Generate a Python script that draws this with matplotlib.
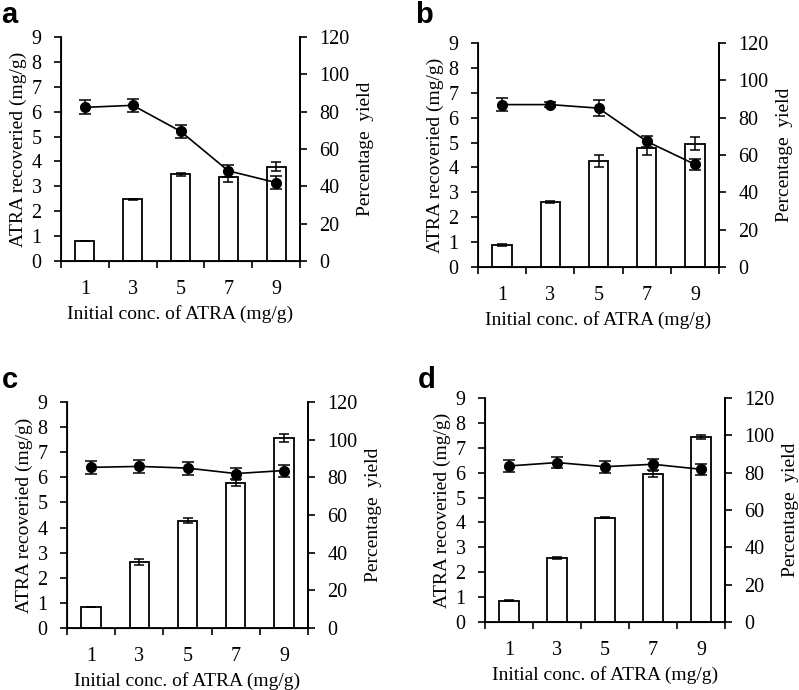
import numpy as np
import matplotlib.pyplot as plt

conc = ["1", "3", "5", "7", "9"]

# ATRA recovered (mg/g), bars on the left axis
rec_a = [0.80, 2.49, 3.48, 3.38, 3.79]
rec_a_err = [0.0, 0.02, 0.07, 0.2, 0.19]
rec_b = [0.89, 2.61, 4.26, 4.78, 4.96]
rec_b_err = [0.03, 0.04, 0.23, 0.3, 0.25]
rec_c = [0.83, 2.61, 4.27, 5.79, 7.55]
rec_c_err = [0.01, 0.12, 0.1, 0.12, 0.16]
rec_d = [0.86, 2.57, 4.19, 5.95, 7.45]
rec_d_err = [0.01, 0.03, 0.02, 0.13, 0.08]

# percentage yield, line on the right axis
yld_a = [82.3, 83.4, 69.5, 48.3, 42.0]
yld_a_err = [3.8, 3.4, 3.6, 3.1, 3.3]
yld_b = [87.0, 87.0, 85.1, 67.3, 55.0]
yld_b_err = [3.3, 1.5, 4.2, 3.1, 2.9]
yld_c = [85.3, 85.8, 84.9, 82.0, 83.6]
yld_c_err = [3.4, 3.4, 3.4, 3.0, 3.2]
yld_d = [83.6, 85.4, 83.2, 84.5, 81.8]
yld_d_err = [3.0, 3.0, 3.2, 3.0, 3.0]

panels = [
    ("a", rec_a, rec_a_err, yld_a, yld_a_err),
    ("b", rec_b, rec_b_err, yld_b, yld_b_err),
    ("c", rec_c, rec_c_err, yld_c, yld_c_err),
    ("d", rec_d, rec_d_err, yld_d, yld_d_err),
]

W, H = 799, 690
# axes boxes in pixels: left, right, top, bottom
boxes = [(61, 300, 37, 261), (478, 719, 43, 267),
         (67, 308, 402, 628), (485, 725, 398, 622)]
# panel letter positions (x, baseline) in pixels
letters = [(1, 23), (415, 23), (2, 388), (418, 388)]

serif = "Liberation Serif"
fs = 14
tfs = 14.5

fig = plt.figure(figsize=(W / 100, H / 100), dpi=100)

for (name, rec, rec_err, yld, yld_err), box, lp in zip(panels, boxes, letters):
    l, r, t, b = box
    ax = fig.add_axes([l / W, 1 - b / H, (r - l) / W, (b - t) / H])
    x = np.arange(len(conc))

    ax.bar(x, rec, width=0.4, color="white", edgecolor="black", linewidth=1.3,
           yerr=rec_err, capsize=3.5, error_kw=dict(elinewidth=1.1, capthick=1.1, ecolor="black"))
    ax.set_xlim(-0.5, 4.5)
    ax.set_ylim(0, 9)
    ax.set_yticks(range(0, 10))

    ax.set_xticks(np.arange(-0.5, 5, 1))
    ax.set_xticklabels([])
    ax.set_xticks(x, minor=True)
    ax.set_xticklabels(conc, minor=True)
    ax.tick_params(axis="x", which="major", direction="out", length=5, width=1.2)
    ax.tick_params(axis="x", which="minor", length=0, pad=14)
    ax.tick_params(axis="y", direction="out", length=5, width=1.2, pad=9)

    ax.spines["top"].set_visible(False)
    for s in ["left", "bottom", "right"]:
        ax.spines[s].set_linewidth(1.3)

    ax.set_xlabel("Initial conc. of ATRA (mg/g)", fontsize=fs, fontfamily=serif, labelpad=4)
    ax.set_ylabel("ATRA recoveried (mg/g)", fontsize=fs, fontfamily=serif, labelpad=3)

    ax2 = ax.twinx()
    ax2.errorbar(x, yld, yerr=yld_err, color="black", linewidth=1.2, marker="o",
                 markersize=7, capsize=4, elinewidth=1.1, capthick=1.1)
    ax2.set_ylim(0, 120)
    ax2.set_yticks(range(0, 121, 20))
    ax2.tick_params(axis="y", direction="out", length=5, width=1.2, pad=9)
    ax2.spines["top"].set_visible(False)
    ax2.spines["right"].set_linewidth(1.3)
    ax2.set_ylabel("Percentage  yield", fontsize=fs, fontfamily=serif, labelpad=5)

    for a_ in (ax, ax2):
        for lab in a_.get_yticklabels() + a_.get_xticklabels(minor=True):
            lab.set_fontfamily(serif)
            lab.set_fontsize(tfs)

    fig.text(lp[0] / W, 1 - lp[1] / H, name, fontsize=21, fontweight="bold",
             fontfamily="Liberation Sans", ha="left", va="baseline")

fig.savefig("out.png", dpi=100)
